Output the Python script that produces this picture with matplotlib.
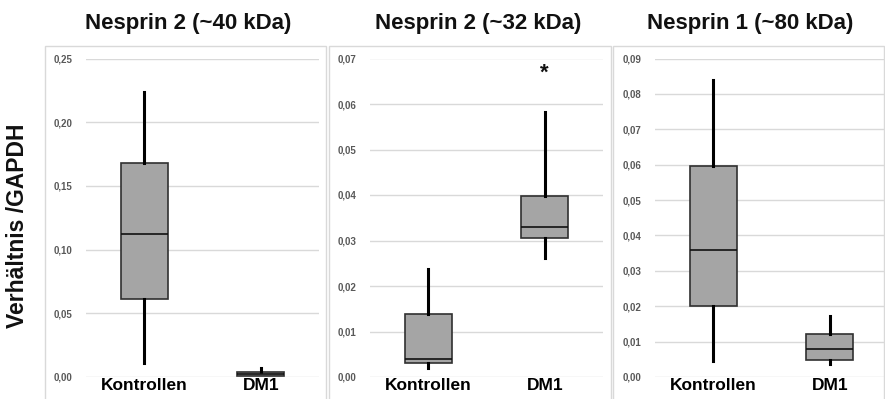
import matplotlib
matplotlib.use("Agg")
import matplotlib.pyplot as plt
from matplotlib.patches import Rectangle
from matplotlib.ticker import FuncFormatter

plt.rcParams['font.family'] = ['Liberation Sans', 'DejaVu Sans']

categories = ["Kontrollen", "DM1"]
titles = ["Nesprin 2 (~40 kDa)", "Nesprin 2 (~32 kDa)", "Nesprin 1 (~80 kDa)"]

# per panel: [Kontrollen, DM1]
whislo = [[0.0108, 0.0005], [0.0020, 0.0262], [0.0044, 0.0037]]
q1 = [[0.0613, 0.0010], [0.0031, 0.0305], [0.0201, 0.0047]]
med = [[0.1119, 0.0025], [0.0039, 0.0329], [0.0358, 0.0079]]
q3 = [[0.1677, 0.0040], [0.0138, 0.0398], [0.0597, 0.0122]]
whishi = [[0.2235, 0.0070], [0.0237, 0.0583], [0.0838, 0.0172]]

ymax = [0.25, 0.07, 0.09]
ystep = [0.05, 0.01, 0.01]
star_value = 0.0667

W, H = 885, 399
fig = plt.figure(figsize=(W / 100, H / 100), dpi=100)

def fx(px):
    return px / W

def fy(py):
    return 1 - py / H

# panel frames (pixel coords)
frames = [(45, 326), (329, 611), (613, 884)]
plot_x = [(86, 319), (370, 603), (655, 888)]
y_top, y_bot = 58.5, 377
title_cx = [188, 478, 750]

for i in range(3):
    x0, x1 = frames[i]
    fig.patches.append(Rectangle((fx(x0), fy(402)), fx(x1 - x0), (402 - 46) / H,
                                 transform=fig.transFigure, fill=False,
                                 edgecolor='#d9d9d9', linewidth=1.0))
    px0, px1 = plot_x[i]
    ax = fig.add_axes([fx(px0), fy(y_bot), fx(px1 - px0), (y_bot - y_top) / H])
    stats = []
    for j, c in enumerate(categories):
        stats.append(dict(label=c, whislo=whislo[i][j], q1=q1[i][j], med=med[i][j],
                          q3=q3[i][j], whishi=whishi[i][j], fliers=[]))
    ax.bxp(stats, positions=[0, 1], widths=0.4, patch_artist=True, showcaps=False,
           boxprops=dict(facecolor='#a5a5a5', edgecolor='#303030', linewidth=1.2),
           medianprops=dict(color='#111111', linewidth=1.2),
           whiskerprops=dict(color='#000000', linewidth=2.2))
    ax.set_xlim(-0.5, 1.5)
    ax.set_ylim(0, ymax[i])
    n = int(round(ymax[i] / ystep[i]))
    ticks = [k * ystep[i] for k in range(n + 1)]
    ax.set_yticks(ticks)
    ax.yaxis.set_major_formatter(FuncFormatter(lambda v, p: f"{v:.2f}".replace('.', ',')))
    ax.grid(axis='y', color='#d9d9d9', linewidth=1.0)
    ax.set_axisbelow(True)
    for s in ax.spines.values():
        s.set_visible(False)
    ax.tick_params(axis='y', length=0, pad=10, labelsize=7, labelcolor='#595959')
    ax.tick_params(axis='x', length=0, pad=1, labelsize=12.5)
    for lbl in ax.get_yticklabels():
        lbl.set_fontweight('bold')
    for lbl in ax.get_xticklabels():
        lbl.set_fontweight('bold')
        lbl.set_color('#000000')
    ax.patch.set_alpha(0)
    fig.text(fx(title_cx[i]), fy(24), titles[i], ha='center', va='center',
             fontsize=16, fontweight='bold', color='#111111')
    if i == 1:
        ax.text(1, star_value, '*', ha='center', va='center', fontsize=16,
                fontweight='bold', color='#111111')

fig.text(fx(18), fy(226), "Verhältnis /GAPDH", rotation=90, ha='center', va='center',
         fontsize=16.5, fontweight='bold', color='#111111')

fig.savefig("out.png", dpi=100)
